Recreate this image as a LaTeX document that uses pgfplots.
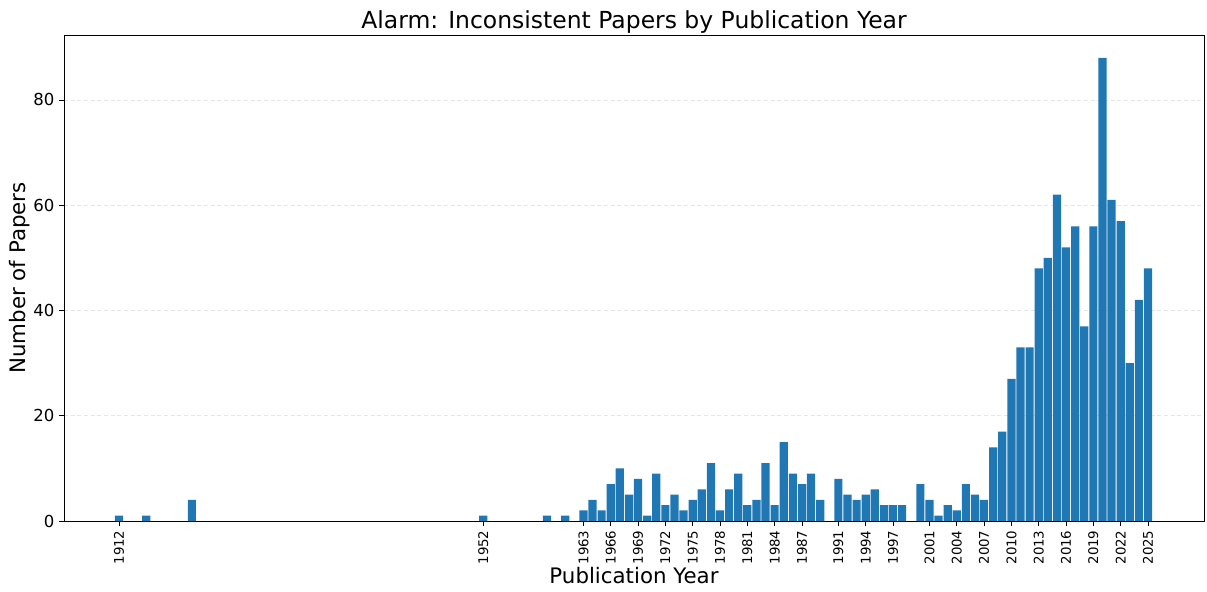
\documentclass[border=0pt]{standalone}
\usepackage{pgfplots}
\pgfplotsset{compat=1.18}
\usepackage{fontspec}
\setmainfont{DejaVu Sans}

\definecolor{mplblue}{HTML}{1F77B4}

\begin{document}
\begin{tikzpicture}
  \begin{axis}[
      scale only axis,
      width=855pt, height=364.5pt,
      xmin=1905.96, xmax=2031.15,
      ymin=0, ymax=92.35,
      ybar, bar width=0.9, bar shift=0pt,
      xtick={1912,1952,1963,1966,1969,1972,1975,1978,1981,1984,1987,1991,1994,1997,2001,2004,2007,2010,2013,2016,2019,2022,2025},
      xticklabel style={rotate=90, anchor=east, font=\fontsize{10}{12}\selectfont},
      ytick={0,20,40,60,80},
      yticklabel style={font=\fontsize{12.4}{14}\selectfont},
      /pgf/number format/assume math mode=true,
      /pgf/number format/1000 sep={},
      tick align=outside, major tick length=3.6pt,
      xtick pos=bottom, ytick pos=left,
      tick style={black, line width=0.6pt},
      axis line style={black, line width=0.6pt},
      ymajorgrids, xmajorgrids=false,
      grid style={dash pattern=on 3pt off 2pt, gray!20, line width=0.5pt},
      title={Alarm: Inconsistent Papers by Publication Year},
      title style={font=\fontsize{17.6}{20}\selectfont, yshift=-8pt},
      xlabel={Publication Year},
      ylabel={Number of Papers},
      xlabel style={font=\fontsize{16}{18}\selectfont, yshift=5pt},
      ylabel style={font=\fontsize{16}{18}\selectfont, yshift=-4pt},
    ]
    \addplot[fill=mplblue, draw=none] table[row sep=\\] {
      x y \\
      1912 1 \\ 1915 1 \\ 1920 4 \\ 1952 1 \\ 1959 1 \\ 1961 1 \\
      1963 2 \\ 1964 4 \\ 1965 2 \\ 1966 7 \\ 1967 10 \\ 1968 5 \\
      1969 8 \\ 1970 1 \\ 1971 9 \\ 1972 3 \\ 1973 5 \\ 1974 2 \\
      1975 4 \\ 1976 6 \\ 1977 11 \\ 1978 2 \\ 1979 6 \\ 1980 9 \\
      1981 3 \\ 1982 4 \\ 1983 11 \\ 1984 3 \\ 1985 15 \\ 1986 9 \\
      1987 7 \\ 1988 9 \\ 1989 4 \\ 1991 8 \\ 1992 5 \\ 1993 4 \\
      1994 5 \\ 1995 6 \\ 1996 3 \\ 1997 3 \\ 1998 3 \\ 2000 7 \\
      2001 4 \\ 2002 1 \\ 2003 3 \\ 2004 2 \\ 2005 7 \\ 2006 5 \\
      2007 4 \\ 2008 14 \\ 2009 17 \\ 2010 27 \\ 2011 33 \\ 2012 33 \\
      2013 48 \\ 2014 50 \\ 2015 62 \\ 2016 52 \\ 2017 56 \\ 2018 37 \\
      2019 56 \\ 2020 88 \\ 2021 61 \\ 2022 57 \\ 2023 30 \\ 2024 42 \\
      2025 48 \\
    };
  \end{axis}
  % fix the page to the reference margins around the axis box
  \pgfresetboundingbox
  \path[use as bounding box] (-48pt,-53.25pt) rectangle (857.25pt,390.75pt);
\end{tikzpicture}
\end{document}
